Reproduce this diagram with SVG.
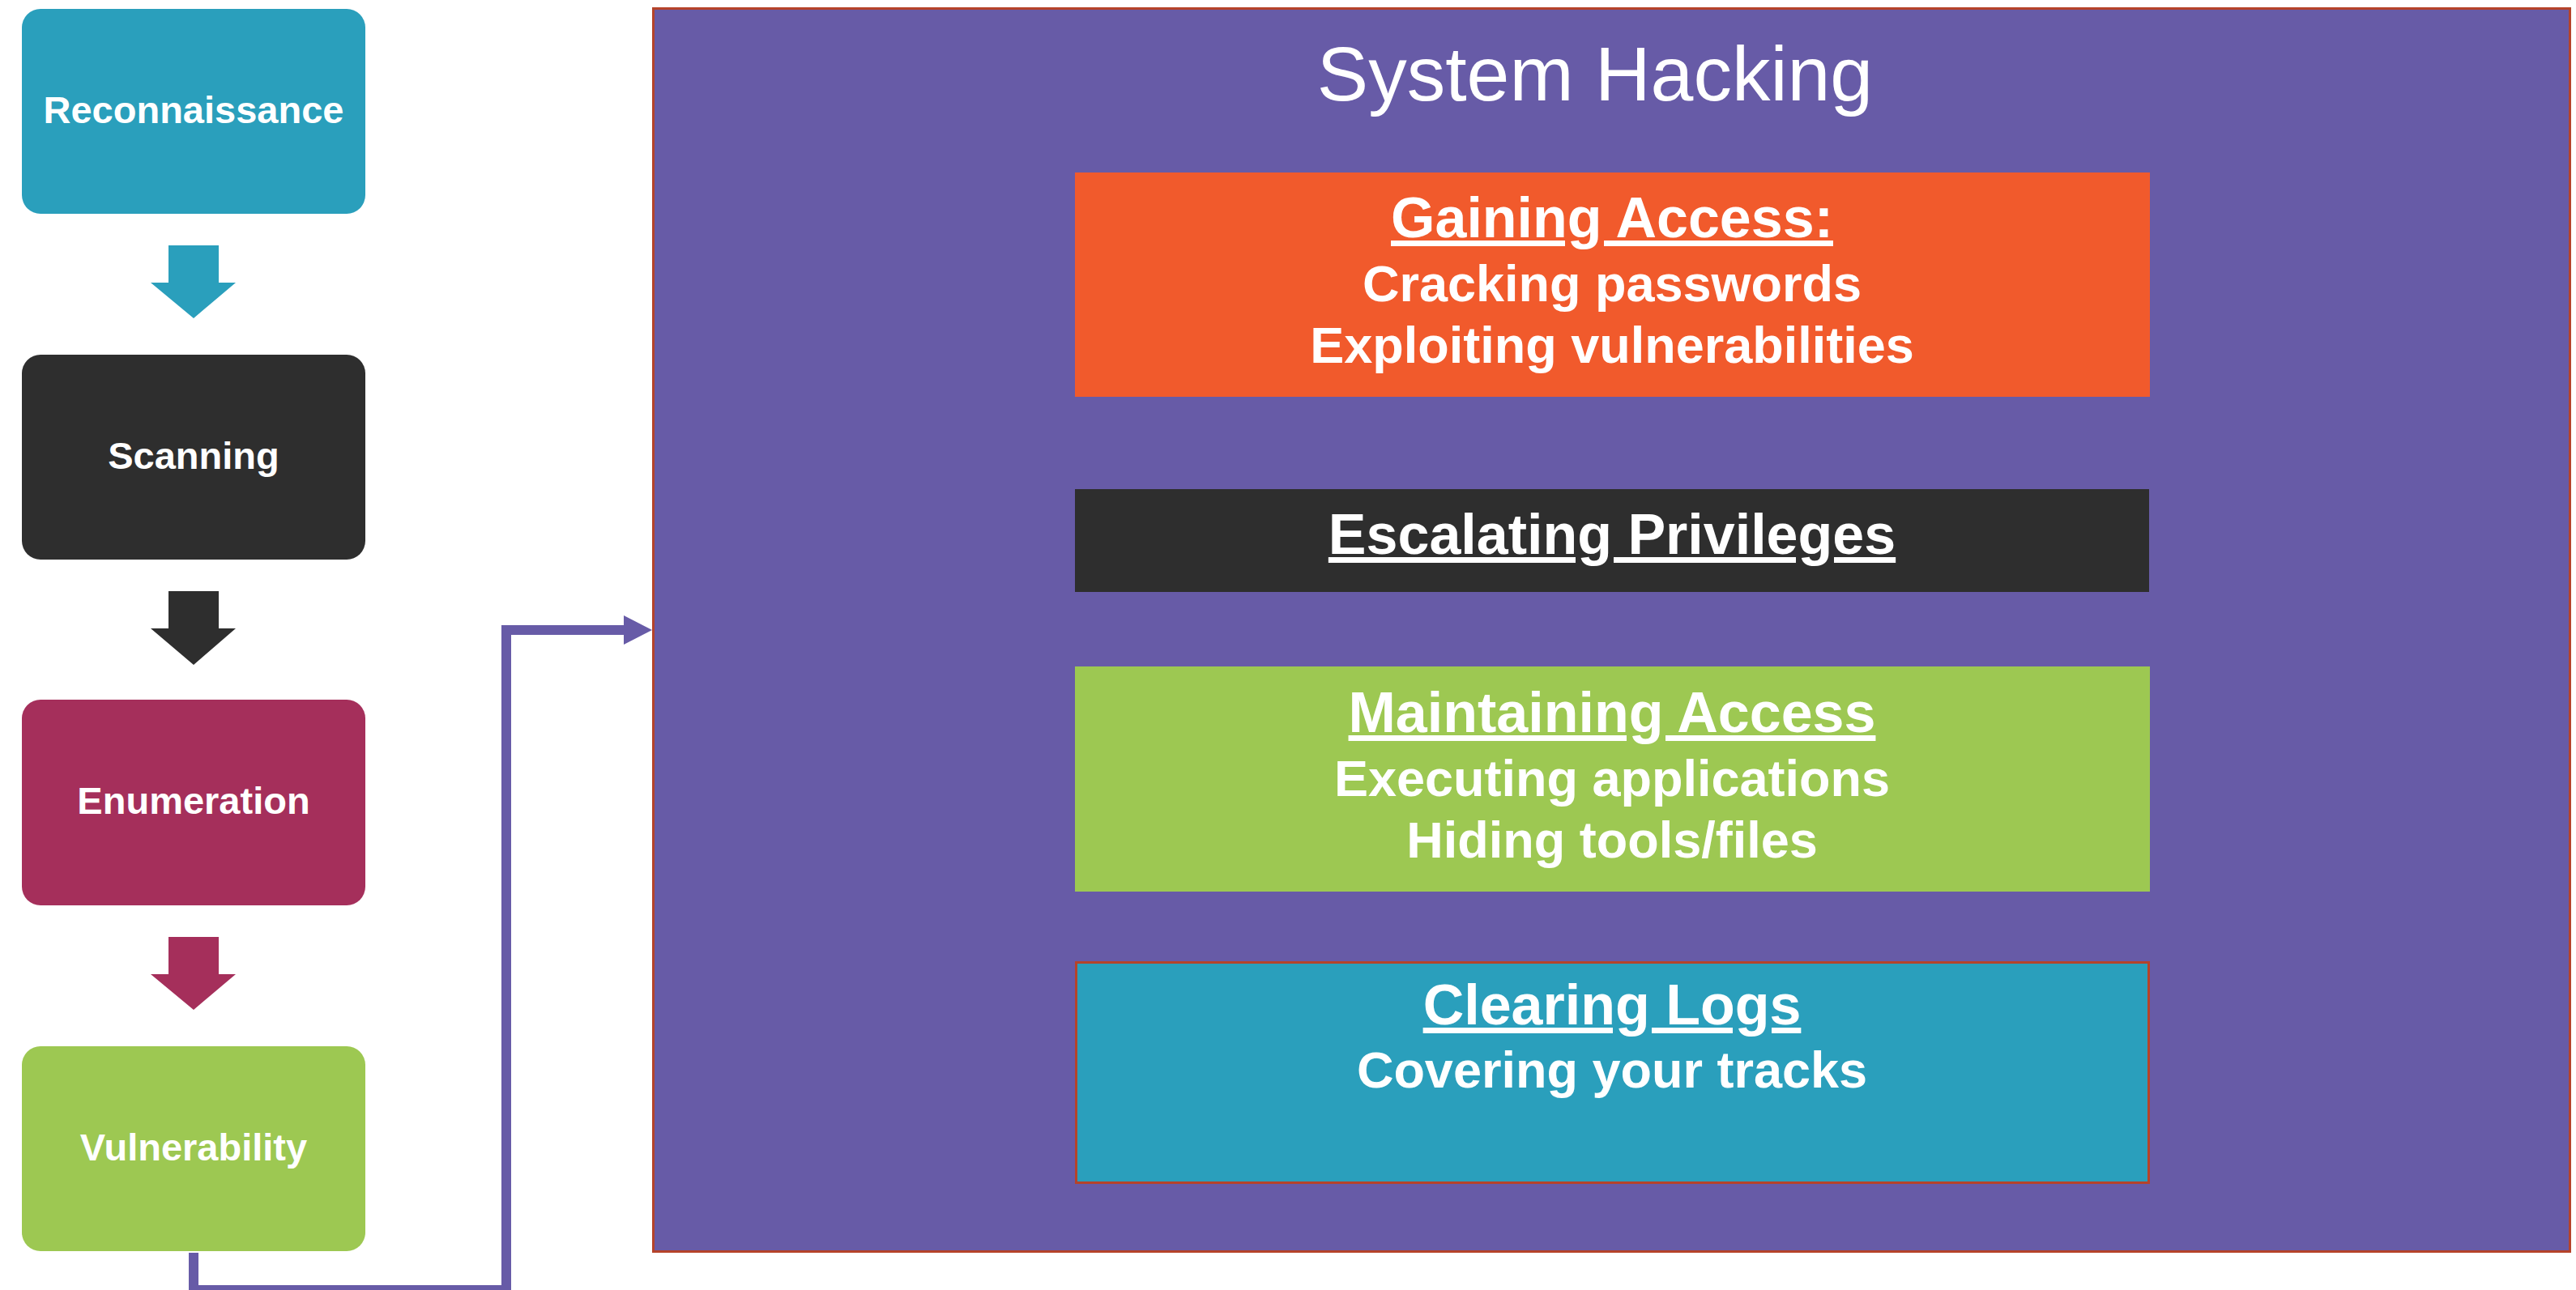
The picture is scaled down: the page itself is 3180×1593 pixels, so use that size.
<svg xmlns="http://www.w3.org/2000/svg" width="3180" height="1593" viewBox="0 0 3180 1593">
<defs>
<style>
.step{stroke:none}
.stepText{font-family:"Liberation Sans",Arial,sans-serif;font-weight:700;font-size:47px;fill:#ffffff;text-anchor:middle}
.head{font-family:"Liberation Sans",Arial,sans-serif;font-weight:700;font-size:70px;fill:#ffffff;text-anchor:middle;text-decoration:underline}
.sub{font-family:"Liberation Sans",Arial,sans-serif;font-weight:700;font-size:63px;fill:#ffffff;text-anchor:middle}
.title{font-family:"Liberation Sans",Arial,sans-serif;font-weight:400;font-size:95px;fill:#ffffff;text-anchor:middle}
.conn{fill:none;stroke:#675BA7;stroke-width:12}
</style>
<marker id="ah" viewBox="0 0 35 36" refX="2" refY="18" markerWidth="35" markerHeight="36" markerUnits="userSpaceOnUse" orient="auto">
<path d="M0,0 L35,18 L0,36 Z" fill="#675BA7"/>
</marker>
</defs>
<rect x="0" y="0" width="3180" height="1593" fill="#ffffff"/>

<g id="recon">
<rect class="step" x="27" y="11" width="424" height="253" rx="23" fill="#2A9FBC"/>
<text class="stepText" x="239" y="152">Reconnaissance</text>
</g>
<g id="arrow1"><polygon points="208,303 270,303 270,349 291,349 239,393 186,349 208,349" fill="#2A9FBC"/></g>

<g id="scanning">
<rect class="step" x="27" y="438" width="424" height="253" rx="23" fill="#2E2E2E"/>
<text class="stepText" x="239" y="579">Scanning</text>
</g>
<g id="arrow2"><polygon points="208,730 270,730 270,776 291,776 239,821 186,776 208,776" fill="#2E2E2E"/></g>

<g id="enumeration">
<rect class="step" x="27" y="864" width="424" height="254" rx="23" fill="#A52F5B"/>
<text class="stepText" x="239" y="1005">Enumeration</text>
</g>
<g id="arrow3"><polygon points="208,1157 270,1157 270,1203 291,1203 239,1247 186,1203 208,1203" fill="#A52F5B"/></g>

<g id="vulnerability">
<rect class="step" x="27" y="1292" width="424" height="253" rx="23" fill="#9DC852"/>
<text class="stepText" x="239" y="1433">Vulnerability</text>
</g>

<g id="system-hacking">
<rect x="806.5" y="10.5" width="2366" height="1535" fill="#675BA7" stroke="#B5432A" stroke-width="3"/>
<text class="title" x="1969" y="124">System Hacking</text>
</g>

<g id="gaining-access">
<rect x="1327" y="213" width="1327" height="277" fill="#F15A2C"/>
<text class="head" x="1990" y="293">Gaining Access:</text>
<text class="sub" x="1990" y="372">Cracking passwords</text>
<text class="sub" x="1990" y="448">Exploiting vulnerabilities</text>
</g>

<g id="escalating">
<rect x="1327" y="604" width="1326" height="127" fill="#2E2E2E"/>
<text class="head" x="1990" y="684">Escalating Privileges</text>
</g>

<g id="maintaining">
<rect x="1327" y="823" width="1327" height="278" fill="#9DC852"/>
<text class="head" x="1990" y="904">Maintaining Access</text>
<text class="sub" x="1990" y="983">Executing applications</text>
<text class="sub" x="1990" y="1059">Hiding tools/files</text>
</g>

<g id="clearing">
<rect x="1328.5" y="1188.5" width="1324" height="272" fill="#2A9FBC" stroke="#B5432A" stroke-width="3"/>
<text class="head" x="1990" y="1265">Clearing Logs</text>
<text class="sub" x="1990" y="1343">Covering your tracks</text>
</g>

<g id="connectors">
<path class="conn" d="M239,1547 V1593 H625 V778 H772" marker-end="url(#ah)"/>
</g>
</svg>
